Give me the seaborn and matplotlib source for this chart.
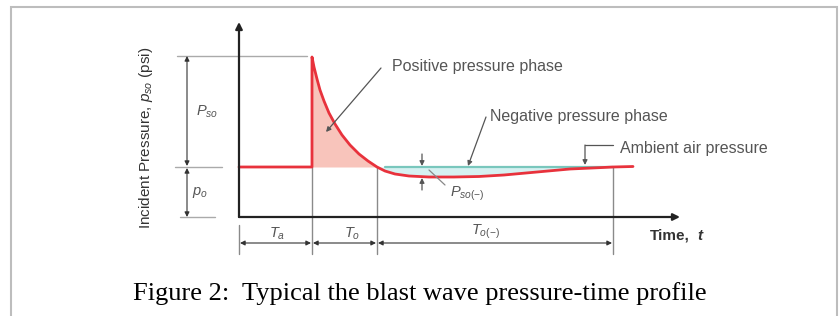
import matplotlib
matplotlib.use("Agg")
import matplotlib.pyplot as plt
import seaborn as sns
import numpy as np
from matplotlib.patches import Rectangle

# ---- data (schematic units: time offset from origin, pressure above zero) ----
AMBIENT = 50          # ambient pressure p_o
PEAK = 160            # peak incident pressure
T_ARRIVAL = 73        # arrival time T_a
T_POS_END = 138       # end of positive phase
T_NEG_END = 374       # end of negative phase
T_AXIS_END = 441

curve_t = [0, 73, 73, 75, 78, 81, 85, 90, 96, 103, 111, 120, 129, 138, 146, 156,
           170, 190, 215, 240, 265, 298, 331, 364, 374, 394]
curve_p = [50, 50, 160, 150, 138, 127, 116, 104, 93, 82, 72, 63, 56, 50, 46, 43,
           41, 40, 40, 40.5, 42, 45, 48, 49.5, 50, 50.5]

sns.set_theme(style="white")
plt.rcParams["font.family"] = ["Liberation Sans", "DejaVu Sans"]
plt.rcParams["mathtext.fontset"] = "custom"
plt.rcParams["mathtext.rm"] = "Liberation Sans"
plt.rcParams["mathtext.it"] = "Liberation Sans:italic"
plt.rcParams["mathtext.bf"] = "Liberation Sans:bold"

fig = plt.figure(figsize=(8.4, 3.16), dpi=100)
ax = fig.add_axes([0, 0, 1, 1])
ax.set_xlim(-239, 601)
ax.set_ylim(-99, 217)
ax.axis("off")

def P(x, y):
    """pixel position in the picture -> data units"""
    return (x - 239, 217 - y)

RED = "#e8323c"
GRAY = "#8a8a8a"
TXT = "#555555"

t = np.array(curve_t, dtype=float)
p = np.array(curve_p, dtype=float)

# fills
pos = (t >= T_ARRIVAL) & (t <= T_POS_END)
pos[1] = False
ax.fill_between(t[pos], p[pos], AMBIENT, color="#f8c4bb", lw=0, zorder=1)
ax.fill_between([T_ARRIVAL, T_ARRIVAL + 0.01], [AMBIENT, AMBIENT], [PEAK, PEAK],
                color="#f8c4bb", lw=0, zorder=1)
neg = (t >= T_POS_END) & (t <= T_NEG_END)
ax.fill_between(t[neg], p[neg], AMBIENT, color="#d6f1f1", lw=0, zorder=1)

# ambient reference line
ax.plot([T_POS_END + 8, T_NEG_END], [AMBIENT, AMBIENT], color="#79c7bd", lw=1.6, zorder=2)

# pressure curve
sns.lineplot(x=t, y=p, ax=ax, color=RED, lw=2, sort=False, estimator=None, zorder=4)

# axes arrows
ax.annotate("", xy=(0, 195), xytext=(0, 0),
            arrowprops=dict(arrowstyle="-|>", color="#222222", lw=1.6, mutation_scale=10,
                            shrinkA=0, shrinkB=0), zorder=5)
ax.annotate("", xy=(T_AXIS_END, 0), xytext=(0, 0),
            arrowprops=dict(arrowstyle="-|>", color="#222222", lw=1.6, mutation_scale=10,
                            shrinkA=0, shrinkB=0), zorder=5)

# extension lines (left)
ax.plot([P(177, 0)[0], T_ARRIVAL - 5], [PEAK + 1, PEAK + 1], color="#aaaaaa", lw=1)
ax.plot([P(175, 0)[0], P(222, 0)[0]], [AMBIENT, AMBIENT], color="#aaaaaa", lw=1)
ax.plot([P(180, 0)[0], P(215, 0)[0]], [0, 0], color="#aaaaaa", lw=1)

dim = dict(arrowstyle="<|-|>", color="#333333", lw=0.8, mutation_scale=7,
           shrinkA=0, shrinkB=0)
xd = P(187, 0)[0]
ax.annotate("", xy=(xd, PEAK + 1), xytext=(xd, AMBIENT + 1), arrowprops=dim)
ax.annotate("", xy=(xd, AMBIENT - 1), xytext=(xd, 0), arrowprops=dim)

# vertical markers
yb_top = P(0, 225)[1]
yb_bot = P(0, 254)[1]
ax.plot([0, 0], [yb_top, yb_bot], color=GRAY, lw=1)
for tx in (T_ARRIVAL, T_POS_END, T_NEG_END):
    ax.plot([tx, tx], [AMBIENT, yb_bot], color=GRAY, lw=1, zorder=3)

# bottom dimension arrows
yd = P(0, 243)[1]
for a, b in ((0, T_ARRIVAL), (T_ARRIVAL, T_POS_END), (T_POS_END, T_NEG_END)):
    ax.annotate("", xy=(a + 1, yd), xytext=(b - 1, yd), arrowprops=dim)

# labels
mfs = 10.5
ax.text(*P(207, 112), r"$P_{so}$", fontsize=mfs, color=TXT, ha="center", va="center")
ax.text(*P(200, 193), r"$p_o$", fontsize=mfs, color=TXT, ha="center", va="center")
ax.text(*P(277, 234), r"$T_a$", fontsize=mfs, color=TXT, ha="center", va="center")
ax.text(*P(352, 234), r"$T_o$", fontsize=mfs, color=TXT, ha="center", va="center")
ax.text(*P(485, 232), r"$T_{o(-)}$", fontsize=mfs, color=TXT, ha="center", va="center")
ax.text(*P(467, 194), r"$P_{so(-)}$", fontsize=mfs, color=TXT, ha="center", va="center")

ax.text(*P(146, 138), r"Incident Pressure, $p_{so}$ (psi)", fontsize=11, color="#333333",
        rotation=90, ha="center", va="center")

ax.text(*P(650, 236), "Time,", fontsize=11, fontweight="bold", color="#333333",
        ha="left", va="center")
ax.text(*P(697, 236), "t", fontsize=11, fontweight="bold", fontstyle="italic",
        color="#333333", ha="left", va="center")

tfs = 11.5
ax.text(*P(392, 67), "Positive pressure phase", fontsize=tfs, color=TXT, ha="left", va="center")
ax.text(*P(490, 116), "Negative pressure phase", fontsize=tfs, color=TXT, ha="left", va="center")
ax.text(*P(620, 148), "Ambient air pressure", fontsize=tfs, color=TXT, ha="left", va="center")

lead = dict(arrowstyle="-|>", color="#555555", lw=0.9, mutation_scale=7, shrinkA=0, shrinkB=0)
ax.annotate("", xy=P(326, 132), xytext=P(381, 68), arrowprops=lead, zorder=6)
ax.annotate("", xy=P(468, 166), xytext=P(486, 117), arrowprops=lead, zorder=6)
ax.plot(*zip(P(613, 145), P(585, 145)), color="#555555", lw=0.9)
ax.annotate("", xy=P(585, 165), xytext=P(585, 145), arrowprops=lead, zorder=6)
ax.annotate("", xy=P(422, 166), xytext=P(422, 154), arrowprops=lead, zorder=6)
ax.annotate("", xy=P(422, 178), xytext=P(422, 190), arrowprops=lead, zorder=6)
ax.plot(*zip(P(429, 170), P(445, 185)), color="#888888", lw=0.9, zorder=6)

# caption
fig.text(420 / 840, 1 - 294 / 316, "Figure 2:  Typical the blast wave pressure-time profile",
         family=["Liberation Serif"], fontsize=19, color="black", ha="center", va="center")

# frame
fig.patches.append(Rectangle((11 / 840, -0.1), 826 / 840, 1.1 - 7 / 316,
                             transform=fig.transFigure, fill=False, ec="#bdbdbd", lw=1.5))

fig.savefig("out.png", dpi=100)
